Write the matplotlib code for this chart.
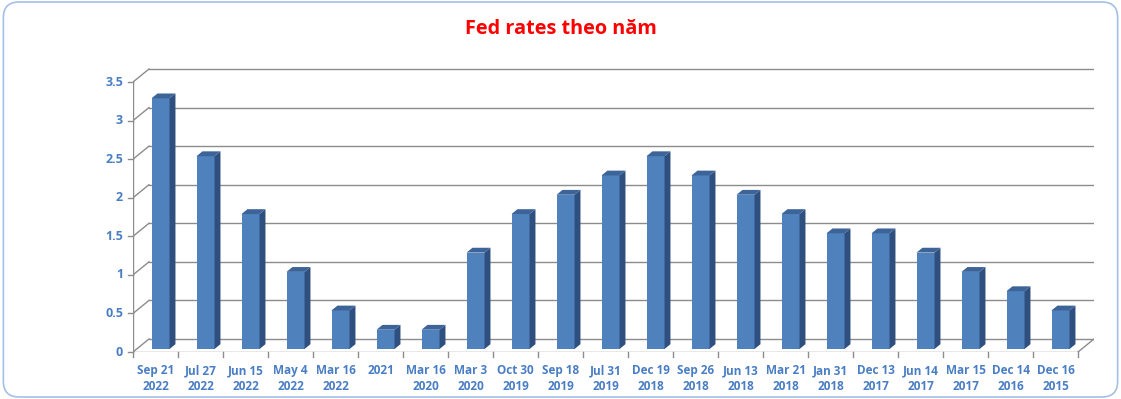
import matplotlib
matplotlib.use("Agg")
import matplotlib.pyplot as plt
from matplotlib.patches import Polygon, FancyBboxPatch

# Fed rate by meeting date (newest first)
dates = ["Sep 21\n2022", "Jul 27\n2022", "Jun 15\n2022", "May 4\n2022", "Mar 16\n2022",
         "2021", "Mar 16\n2020", "Mar 3\n2020", "Oct 30\n2019", "Sep 18\n2019",
         "Jul 31\n2019", "Dec 19\n2018", "Sep 26\n2018", "Jun 13\n2018", "Mar 21\n2018",
         "Jan 31\n2018", "Dec 13\n2017", "Jun 14\n2017", "Mar 15\n2017", "Dec 14\n2016",
         "Dec 16\n2015"]
rates = [3.25, 2.5, 1.75, 1.0, 0.5, 0.25, 0.25, 1.25, 1.75, 2.0,
         2.25, 2.5, 2.25, 2.0, 1.75, 1.5, 1.5, 1.25, 1.0, 0.75, 0.5]
yticks = [0, 0.5, 1, 1.5, 2, 2.5, 3, 3.5]

blue_txt = "#4A7EC4"
front_c = "#4F81BD"
side_c = "#2F4F7E"
top_c = "#3C6499"
grid_c = "#8C8C8C"

n = len(rates)
# fake 3d depth of the plot box (in data units)
DX, DY = 0.356, 0.169
f0, f1 = 0.23, 0.60      # bar depth (front/back fraction)
bl, bw = 0.33, 0.40      # bar left offset and width inside its category

fig = plt.figure(figsize=(11.21, 3.99), dpi=100)
fig.patches.append(FancyBboxPatch((0.003, 0.005), 0.994, 0.99,
                                  boxstyle="round,pad=0,rounding_size=0.014",
                                  transform=fig.transFigure, fc="none",
                                  ec="#A3C0E8", lw=1.2, mutation_aspect=2.8))

ax = fig.add_axes([133 / 1121, 47 / 399, 961 / 1121, 285.4 / 399])
ax.set_xlim(0, 961 / 45)
ax.set_ylim(0, 3.7)
ax.axis("off")

# back wall gridlines + left side wall diagonals
for v in yticks:
    ax.plot([0, DX], [v, v + DY], color=grid_c, lw=1)
    ax.plot([DX, n + DX], [v + DY, v + DY], color=grid_c, lw=1)
# floor
ax.plot([0, n], [0, 0], color=grid_c, lw=1)
ax.plot([n, n + DX], [0, DY], color=grid_c, lw=1)
# front value axis
ax.plot([0, 0], [0, 3.5], color=grid_c, lw=1)
for v in yticks:
    ax.plot([-0.11, 0], [v, v], color=grid_c, lw=1, clip_on=False)
    ax.text(-0.22, v, f"{v:g}", ha="right", va="center", color=blue_txt,
            fontsize=9, fontweight="bold", family="Open Sans")
for i in range(n + 1):
    ax.plot([i, i], [0, -0.07], color=grid_c, lw=1, clip_on=False)
for i, lab in enumerate(dates):
    ax.text(i + 0.5, -0.16, lab, ha="center", va="top", color=blue_txt,
            fontsize=8.5, fontweight="bold", family="Open Sans", linespacing=1.3)

# bars: front face with ax.bar, side and top as polygons
xs = [i + bl + f0 * DX for i in range(n)]
ax.bar(xs, rates, width=bw, bottom=f0 * DY, align="edge", color=front_c, lw=0, zorder=3)
ddx, ddy = (f1 - f0) * DX, (f1 - f0) * DY
for x, v in zip(xs, rates):
    y0, y1 = f0 * DY, f0 * DY + v
    ax.add_patch(Polygon([(x + bw, y0), (x + bw + ddx, y0 + ddy),
                          (x + bw + ddx, y1 + ddy), (x + bw, y1)],
                         closed=True, fc=side_c, lw=0, zorder=3))
    ax.add_patch(Polygon([(x, y1), (x + bw, y1), (x + bw + ddx, y1 + ddy),
                          (x + ddx, y1 + ddy)],
                         closed=True, fc=top_c, lw=0, zorder=3))

fig.text(0.5, 1 - 29 / 399, "Fed rates theo năm", ha="center", va="center",
         color="#FF0000", fontsize=14.3, fontweight="bold", family="Open Sans")

fig.savefig("out.png", dpi=100)
